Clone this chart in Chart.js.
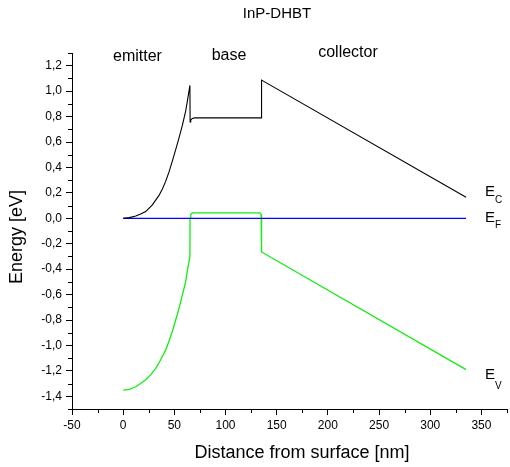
<!DOCTYPE html>
<html>
<head>
<meta charset="utf-8">
<script src="https://cdn.jsdelivr.net/npm/chart.js@4/dist/chart.umd.min.js"></script>
<style>
html,body{margin:0;padding:0;background:#fff;}
canvas{display:block;}
</style>
</head>
<body>
<canvas id="c" width="510" height="467"></canvas>
<script>
// ---- data ----
const chartTitle = "InP-DHBT";
const regionLabels = ["emitter", "base", "collector"];
const xAxisTitle = "Distance from surface [nm]";
const yAxisTitle = "Energy [eV]";

// Conduction band E_C
const ecX = [0, 6, 12.3, 17, 22, 28.5, 35, 38.3, 41.5, 44.8, 48, 51.3, 54.5, 57.8, 61, 63, 65.2, 65.4, 66, 67.5, 70, 135, 135.2, 335];
const ecY = [0, 0.005, 0.018, 0.033, 0.053, 0.105, 0.18, 0.23, 0.29, 0.365, 0.45, 0.54, 0.63, 0.73, 0.84, 0.935, 1.045, 0.757, 0.772, 0.785, 0.79, 0.79, 1.087, 0.165];
// Fermi level E_F
const efX = [0, 335];
const efY = [0, 0];
// Valence band E_V
const evX = [0, 6, 12.3, 17, 22, 27, 31.8, 36.5, 41.5, 44.8, 48, 51.3, 54.5, 57.8, 61, 63, 65.2, 65.3, 66, 67.5, 133.5, 134.8, 135.2, 335];
const evY = [-1.352, -1.345, -1.325, -1.30, -1.27, -1.23, -1.18, -1.115, -1.037, -0.965, -0.89, -0.80, -0.71, -0.605, -0.50, -0.40, -0.30, 0.0, 0.03, 0.042, 0.042, 0.03, -0.265, -1.19];

const seriesNames = ["E_C", "E_F", "E_V"];

const xMin = -50, xMax = 375, xStep = 25, xLabelStep = 50;
const yMin = -1.5, yMax = 1.3, yStep = 0.1;

const FONT = '"Liberation Sans", Arial, Helvetica, sans-serif';

function pts(xs, ys){ return xs.map((x,i)=>({x:x, y:ys[i]})); }

function isMajorX(v){ return Math.abs(Math.round(v) % xLabelStep) === 0; }
function isMajorY(v){ return Math.abs(Math.round(v*10)) % 2 === 0; }

const minorTicks = {
  id: 'minorTicks',
  afterDraw(chart){
    const ctx = chart.ctx;
    const xs = chart.scales.x, ys = chart.scales.y;
    const a = chart.chartArea;
    ctx.save();
    ctx.strokeStyle = '#000';
    ctx.lineWidth = 1;
    ctx.beginPath();
    xs.ticks.forEach(t=>{
      if(!isMajorX(t.value)){
        const px = Math.round(xs.getPixelForValue(t.value)) + 0.5;
        ctx.moveTo(px, a.bottom); ctx.lineTo(px, a.bottom + 4);
      }
    });
    ys.ticks.forEach(t=>{
      if(!isMajorY(t.value)){
        const py = Math.round(ys.getPixelForValue(t.value)) + 0.5;
        ctx.moveTo(a.left, py); ctx.lineTo(a.left - 4, py);
      }
    });
    ctx.stroke();

    // texts
    ctx.fillStyle = '#000';
    ctx.textAlign = 'center';
    ctx.textBaseline = 'middle';
    ctx.font = '15px ' + FONT;
    ctx.fillText(chartTitle, 277, 14);

    ctx.font = '16px ' + FONT;
    ctx.fillText(regionLabels[0], 137.5, 57);
    ctx.fillText(regionLabels[1], 229, 55.5);
    ctx.fillText(regionLabels[2], 348, 53);

    ctx.font = '18px ' + FONT;
    ctx.fillText(xAxisTitle, 302, 453);
    ctx.save();
    ctx.translate(17, 237);
    ctx.rotate(-Math.PI/2);
    ctx.fillText(yAxisTitle, 0, 0);
    ctx.restore();

    // band labels
    const labelPos = [[485, 192, 200], [485, 218, 225], [485, 375, 386]];
    ctx.textAlign = 'left';
    seriesNames.forEach((n,i)=>{
      const p = labelPos[i];
      ctx.font = '15px ' + FONT;
      ctx.fillText('E', p[0], p[1]);
      ctx.font = '10px ' + FONT;
      ctx.fillText(n.split('_')[1], p[0] + 10, p[2]);
    });
    ctx.restore();
  }
};

new Chart(document.getElementById('c'), {
  type: 'line',
  data: {
    datasets: [
      { label: seriesNames[0], data: pts(ecX, ecY), borderColor: '#000000', borderWidth: 1.1, pointRadius: 0, tension: 0, fill: false },
      { label: seriesNames[1], data: pts(efX, efY), borderColor: '#0000ff', borderWidth: 1.3, pointRadius: 0, tension: 0, fill: false },
      { label: seriesNames[2], data: pts(evX, evY), borderColor: '#11ee11', borderWidth: 1.3, pointRadius: 0, tension: 0, fill: false }
    ]
  },
  options: {
    responsive: false,
    devicePixelRatio: 1,
    animation: false,
    layout: { padding: { top: 53, right: 2, left: 0, bottom: 0 } },
    plugins: { legend: { display: false }, title: { display: false }, tooltip: { enabled: false } },
    scales: {
      x: {
        type: 'linear', min: xMin, max: xMax,
        afterFit(s){ s.height = 58; },
        border: { display: true, color: '#000', width: 1 },
        grid: { display: true, drawOnChartArea: false, drawTicks: true, tickLength: 6,
                tickColor: (c)=> isMajorX(c.tick.value) ? '#000' : 'rgba(0,0,0,0)' },
        ticks: { stepSize: xStep, autoSkip: false, maxRotation: 0, padding: 3, color: '#000',
                 font: { size: 12, family: FONT },
                 callback: (v)=> isMajorX(v) ? String(Math.round(v)) : '' }
      },
      y: {
        type: 'linear', min: yMin, max: yMax,
        afterFit(s){ s.width = 72; },
        border: { display: true, color: '#000', width: 1 },
        grid: { display: true, drawOnChartArea: false, drawTicks: true, tickLength: 6,
                tickColor: (c)=> isMajorY(c.tick.value) ? '#000' : 'rgba(0,0,0,0)' },
        ticks: { stepSize: yStep, autoSkip: false, padding: 4, color: '#000',
                 font: { size: 12, family: FONT },
                 callback: (v)=> isMajorY(v) ? v.toFixed(1).replace('.', ',').replace('-0,0','0,0') : '' }
      }
    }
  },
  plugins: [minorTicks]
});
</script>
</body>
</html>
